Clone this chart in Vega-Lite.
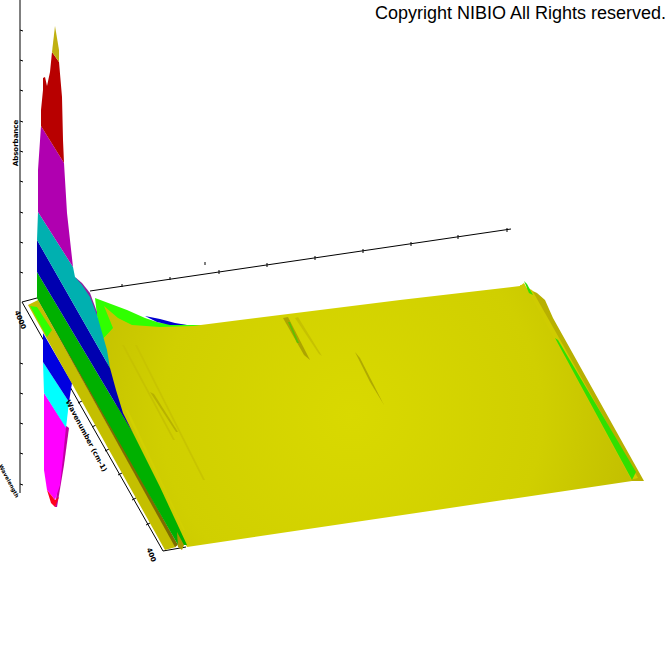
{"$schema":"https://vega.github.io/schema/vega-lite/v6.json","width":672,"height":672,"autosize":{"type":"none"},"padding":0,"background":"white","config":{"view":{"stroke":null}},
"encoding":{"x":{"field":"x","type":"quantitative","axis":null,"scale":{"domain":[0,672],"nice":false,"zero":false}},"y":{"field":"y","type":"quantitative","axis":null,"scale":{"domain":[672,0],"nice":false,"zero":false}}},
"layer":[
{"data":{"values":[
{"part":"a","seq":0,"x":20,"y":0},{"part":"a","seq":1,"x":20,"y":493},
{"part":"b","seq":0,"x":37,"y":298},{"part":"b","seq":1,"x":22,"y":302},{"part":"b","seq":2,"x":163,"y":551},{"part":"b","seq":3,"x":186,"y":547},
{"part":"c","seq":0,"x":90,"y":291},{"part":"c","seq":1,"x":511,"y":229},
{"part":"t1","seq":0,"x":122,"y":284},{"part":"t1","seq":1,"x":122,"y":287},{"part":"t2","seq":0,"x":170,"y":277},{"part":"t2","seq":1,"x":170,"y":280},{"part":"t3","seq":0,"x":219,"y":270},{"part":"t3","seq":1,"x":219,"y":274},{"part":"t4","seq":0,"x":267,"y":263},{"part":"t4","seq":1,"x":267,"y":267},{"part":"t5","seq":0,"x":315,"y":256},{"part":"t5","seq":1,"x":315,"y":260},{"part":"t6","seq":0,"x":363,"y":249},{"part":"t6","seq":1,"x":363,"y":253},{"part":"t7","seq":0,"x":411,"y":242},{"part":"t7","seq":1,"x":411,"y":246},{"part":"t8","seq":0,"x":458,"y":235},{"part":"t8","seq":1,"x":458,"y":239},{"part":"t9","seq":0,"x":507,"y":228},{"part":"t9","seq":1,"x":507,"y":232},{"part":"t10","seq":0,"x":205,"y":262},{"part":"t10","seq":1,"x":205,"y":265},
{"part":"f1","seq":0,"x":78,"y":403},{"part":"f1","seq":1,"x":82,"y":401},{"part":"f2","seq":0,"x":92,"y":427},{"part":"f2","seq":1,"x":96,"y":425},{"part":"f3","seq":0,"x":105,"y":451},{"part":"f3","seq":1,"x":109,"y":449},{"part":"f4","seq":0,"x":118,"y":475},{"part":"f4","seq":1,"x":122,"y":473},{"part":"f5","seq":0,"x":132,"y":500},{"part":"f5","seq":1,"x":136,"y":498},{"part":"f6","seq":0,"x":146,"y":525},{"part":"f6","seq":1,"x":150,"y":523},
{"part":"v1","seq":0,"x":20,"y":30},{"part":"v1","seq":1,"x":23,"y":31},{"part":"v2","seq":0,"x":20,"y":60},{"part":"v2","seq":1,"x":23,"y":61},{"part":"v3","seq":0,"x":20,"y":90},{"part":"v3","seq":1,"x":23,"y":91},{"part":"v4","seq":0,"x":20,"y":121},{"part":"v4","seq":1,"x":23,"y":122},{"part":"v5","seq":0,"x":20,"y":151},{"part":"v5","seq":1,"x":23,"y":152},{"part":"v6","seq":0,"x":20,"y":181},{"part":"v6","seq":1,"x":23,"y":182},{"part":"v7","seq":0,"x":20,"y":212},{"part":"v7","seq":1,"x":23,"y":213},{"part":"v8","seq":0,"x":20,"y":242},{"part":"v8","seq":1,"x":23,"y":243},{"part":"v9","seq":0,"x":20,"y":272},{"part":"v9","seq":1,"x":23,"y":273},{"part":"v10","seq":0,"x":20,"y":363},{"part":"v10","seq":1,"x":23,"y":364},{"part":"v11","seq":0,"x":20,"y":393},{"part":"v11","seq":1,"x":23,"y":394},{"part":"v12","seq":0,"x":20,"y":423},{"part":"v12","seq":1,"x":23,"y":424},{"part":"v13","seq":0,"x":20,"y":453},{"part":"v13","seq":1,"x":23,"y":454},{"part":"v14","seq":0,"x":20,"y":484},{"part":"v14","seq":1,"x":23,"y":485}
]},"mark":{"type":"line","stroke":"black","strokeWidth":1},"encoding":{"detail":{"field":"part"},"order":{"field":"seq","type":"quantitative"}}},
{"data":{"values":[
{"part":"lg","seq":0,"x":95,"y":298,"color":"#30ff00"},{"part":"lg","seq":1,"x":127,"y":310,"color":"#30ff00"},{"part":"lg","seq":2,"x":145,"y":318,"color":"#30ff00"},{"part":"lg","seq":3,"x":160,"y":323,"color":"#30ff00"},{"part":"lg","seq":4,"x":187,"y":325,"color":"#30ff00"},{"part":"lg","seq":5,"x":215,"y":325,"color":"#30ff00"},{"part":"lg","seq":6,"x":215,"y":330,"color":"#30ff00"},{"part":"lg","seq":7,"x":113,"y":330,"color":"#30ff00"},{"part":"lg","seq":8,"x":100,"y":342,"color":"#30ff00"},
{"part":"bs","seq":0,"x":145,"y":316,"color":"#0000d0"},{"part":"bs","seq":1,"x":160,"y":319,"color":"#0000d0"},{"part":"bs","seq":2,"x":175,"y":323,"color":"#0000d0"},{"part":"bs","seq":3,"x":187,"y":325,"color":"#0000d0"},{"part":"bs","seq":4,"x":170,"y":325,"color":"#0000d0"},{"part":"bs","seq":5,"x":157,"y":322,"color":"#0000d0"},
{"part":"o1","seq":0,"x":520,"y":285,"color":"#b8b000"},{"part":"o1","seq":1,"x":537,"y":293,"color":"#b8b000"},{"part":"o1","seq":2,"x":545,"y":300,"color":"#b8b000"},{"part":"o1","seq":3,"x":553,"y":318,"color":"#b8b000"},{"part":"o1","seq":4,"x":644,"y":481,"color":"#b8b000"},{"part":"o1","seq":5,"x":625,"y":481,"color":"#b8b000"},
{"part":"o3","seq":0,"x":520,"y":285,"color":"#cfcc00"},{"part":"o3","seq":1,"x":532,"y":290,"color":"#cfcc00"},{"part":"o3","seq":2,"x":638,"y":478,"color":"#cfcc00"},{"part":"o3","seq":3,"x":625,"y":481,"color":"#cfcc00"}
]},"mark":{"type":"line","filled":true,"strokeWidth":0},"encoding":{"detail":{"field":"part"},"order":{"field":"seq","type":"quantitative"},"fill":{"field":"color","type":"nominal","scale":null}}},
{"data":{"values":[
{"seq":0,"x":104,"y":306},{"seq":1,"x":118,"y":318},{"seq":2,"x":132,"y":325},{"seq":3,"x":160,"y":327},{"seq":4,"x":193,"y":326},{"seq":5,"x":240,"y":320},{"seq":6,"x":400,"y":300},{"seq":7,"x":520,"y":286},{"seq":8,"x":524,"y":283},{"seq":9,"x":632,"y":481},{"seq":10,"x":187,"y":547},{"seq":11,"x":155,"y":487},{"seq":12,"x":128,"y":433},{"seq":13,"x":118,"y":413},{"seq":14,"x":108,"y":370},{"seq":15,"x":103,"y":339},{"seq":16,"x":113,"y":328}
]},"mark":{"type":"line","filled":true,"strokeWidth":0,"fill":{"gradient":"radial","x1":0.47,"y1":0.5,"r1":0,"x2":0.47,"y2":0.5,"r2":0.72,"stops":[{"offset":0,"color":"#d9d900"},{"offset":0.5,"color":"#d0cf00"},{"offset":1,"color":"#b6b000"}]}},"encoding":{"order":{"field":"seq","type":"quantitative"}}},
{"data":{"values":[
{"part":"o2","seq":0,"x":524,"y":281,"color":"#30e000"},{"part":"o2","seq":1,"x":527,"y":284,"color":"#30e000"},{"part":"o2","seq":2,"x":533,"y":295,"color":"#30e000"},{"part":"o2","seq":3,"x":529,"y":293,"color":"#30e000"},
{"part":"o4","seq":0,"x":555,"y":338,"color":"#30e000"},{"part":"o4","seq":1,"x":558,"y":340,"color":"#30e000"},{"part":"o4","seq":2,"x":636,"y":472,"color":"#30e000"},{"part":"o4","seq":3,"x":632,"y":480,"color":"#30e000"},
{"part":"s1","seq":0,"x":122,"y":345,"color":"#c6c200"},{"part":"s1","seq":1,"x":124,"y":345,"color":"#c6c200"},{"part":"s1","seq":2,"x":175,"y":440,"color":"#c6c200"},{"part":"s1","seq":3,"x":173,"y":440,"color":"#c6c200"},
{"part":"s2","seq":0,"x":150,"y":392,"color":"#b8b200"},{"part":"s2","seq":1,"x":154,"y":394,"color":"#b8b200"},{"part":"s2","seq":2,"x":178,"y":432,"color":"#b8b200"},{"part":"s2","seq":3,"x":176,"y":432,"color":"#b8b200"},
{"part":"s3","seq":0,"x":135,"y":345,"color":"#c8c400"},{"part":"s3","seq":1,"x":137,"y":345,"color":"#c8c400"},{"part":"s3","seq":2,"x":205,"y":480,"color":"#c8c400"},{"part":"s3","seq":3,"x":203,"y":480,"color":"#c8c400"},
{"part":"s4","seq":0,"x":125,"y":410,"color":"#d2d000"},{"part":"s4","seq":1,"x":128,"y":410,"color":"#d2d000"},{"part":"s4","seq":2,"x":185,"y":530,"color":"#d2d000"},{"part":"s4","seq":3,"x":183,"y":530,"color":"#d2d000"},
{"part":"s5","seq":0,"x":283,"y":318,"color":"#aca400"},{"part":"s5","seq":1,"x":288,"y":317,"color":"#aca400"},{"part":"s5","seq":2,"x":310,"y":360,"color":"#aca400"},{"part":"s5","seq":3,"x":304,"y":355,"color":"#aca400"},
{"part":"s6","seq":0,"x":288,"y":322,"color":"#60c000"},{"part":"s6","seq":1,"x":290,"y":322,"color":"#60c000"},{"part":"s6","seq":2,"x":299,"y":343,"color":"#60c000"},{"part":"s6","seq":3,"x":297,"y":343,"color":"#60c000"},
{"part":"s7","seq":0,"x":355,"y":352,"color":"#b0aa00"},{"part":"s7","seq":1,"x":360,"y":358,"color":"#b0aa00"},{"part":"s7","seq":2,"x":384,"y":405,"color":"#b0aa00"},{"part":"s7","seq":3,"x":370,"y":382,"color":"#b0aa00"},
{"part":"s8","seq":0,"x":295,"y":318,"color":"#c6c200"},{"part":"s8","seq":1,"x":298,"y":317,"color":"#c6c200"},{"part":"s8","seq":2,"x":322,"y":356,"color":"#c6c200"},{"part":"s8","seq":3,"x":319,"y":354,"color":"#c6c200"}
]},"mark":{"type":"line","filled":true,"strokeWidth":0},"encoding":{"detail":{"field":"part"},"order":{"field":"seq","type":"quantitative"},"fill":{"field":"color","type":"nominal","scale":null}}},
{"data":{"values":[
{"part":"m2","seq":0,"x":65,"y":425,"color":"#c000a0"},{"part":"m2","seq":1,"x":69,"y":428,"color":"#c000a0"},{"part":"m2","seq":2,"x":64,"y":465,"color":"#c000a0"},{"part":"m2","seq":3,"x":57,"y":507,"color":"#c000a0"},{"part":"m2","seq":4,"x":55,"y":507,"color":"#c000a0"},
{"part":"m1","seq":0,"x":44,"y":393,"color":"#ff00ff"},{"part":"m1","seq":1,"x":66,"y":427,"color":"#ff00ff"},{"part":"m1","seq":2,"x":63,"y":457,"color":"#ff00ff"},{"part":"m1","seq":3,"x":60,"y":485,"color":"#ff00ff"},{"part":"m1","seq":4,"x":55,"y":500,"color":"#ff00ff"},{"part":"m1","seq":5,"x":47,"y":490,"color":"#ff00ff"},{"part":"m1","seq":6,"x":44,"y":470,"color":"#ff00ff"},{"part":"m1","seq":7,"x":44,"y":430,"color":"#ff00ff"},
{"part":"r1","seq":0,"x":47,"y":490,"color":"#ff0020"},{"part":"r1","seq":1,"x":55,"y":500,"color":"#ff0020"},{"part":"r1","seq":2,"x":59,"y":497,"color":"#ff0020"},{"part":"r1","seq":3,"x":55,"y":507,"color":"#ff0020"},{"part":"r1","seq":4,"x":51,"y":503,"color":"#ff0020"},
{"part":"cy","seq":0,"x":43,"y":362,"color":"#00ffff"},{"part":"cy","seq":1,"x":69,"y":402,"color":"#00ffff"},{"part":"cy","seq":2,"x":66,"y":428,"color":"#00ffff"},{"part":"cy","seq":3,"x":44,"y":393,"color":"#00ffff"},
{"part":"bl","seq":0,"x":43,"y":333,"color":"#0000e0"},{"part":"bl","seq":1,"x":72,"y":383,"color":"#0000e0"},{"part":"bl","seq":2,"x":69,"y":402,"color":"#0000e0"},{"part":"bl","seq":3,"x":43,"y":362,"color":"#0000e0"},
{"part":"yb","seq":0,"x":28,"y":305,"color":"#c4bf00"},{"part":"yb","seq":1,"x":38,"y":300,"color":"#c4bf00"},{"part":"yb","seq":2,"x":176,"y":547,"color":"#c4bf00"},{"part":"yb","seq":3,"x":165,"y":550,"color":"#c4bf00"},
{"part":"pg","seq":0,"x":30,"y":306,"color":"#30ff00"},{"part":"pg","seq":1,"x":37,"y":307,"color":"#30ff00"},{"part":"pg","seq":2,"x":52,"y":330,"color":"#30ff00"},{"part":"pg","seq":3,"x":47,"y":337,"color":"#30ff00"},
{"part":"dk","seq":0,"x":37,"y":298,"color":"#7d6c00"},{"part":"dk","seq":1,"x":40,"y":298,"color":"#7d6c00"},{"part":"dk","seq":2,"x":178,"y":545,"color":"#7d6c00"},{"part":"dk","seq":3,"x":175,"y":547,"color":"#7d6c00"},
{"part":"gr","seq":0,"x":37,"y":272,"color":"#00b000"},{"part":"gr","seq":1,"x":133,"y":433,"color":"#00b000"},{"part":"gr","seq":2,"x":140,"y":447,"color":"#00b000"},{"part":"gr","seq":3,"x":160,"y":487,"color":"#00b000"},{"part":"gr","seq":4,"x":187,"y":545,"color":"#00b000"},{"part":"gr","seq":5,"x":178,"y":545,"color":"#00b000"},{"part":"gr","seq":6,"x":37,"y":298,"color":"#00b000"},
{"part":"tip","seq":0,"x":177,"y":532,"color":"#a89a00"},{"part":"tip","seq":1,"x":184,"y":545,"color":"#a89a00"},{"part":"tip","seq":2,"x":182,"y":550,"color":"#a89a00"},{"part":"tip","seq":3,"x":178,"y":547,"color":"#a89a00"},
{"part":"bu","seq":0,"x":37,"y":240,"color":"#0000b0"},{"part":"bu","seq":1,"x":110,"y":368,"color":"#0000b0"},{"part":"bu","seq":2,"x":116,"y":390,"color":"#0000b0"},{"part":"bu","seq":3,"x":123,"y":413,"color":"#0000b0"},{"part":"bu","seq":4,"x":133,"y":433,"color":"#0000b0"},{"part":"bu","seq":5,"x":37,"y":272,"color":"#0000b0"},
{"part":"pu","seq":0,"x":75,"y":277,"color":"#9020a0"},{"part":"pu","seq":1,"x":82,"y":283,"color":"#9020a0"},{"part":"pu","seq":2,"x":90,"y":293,"color":"#9020a0"},{"part":"pu","seq":3,"x":97,"y":312,"color":"#9020a0"},{"part":"pu","seq":4,"x":97,"y":320,"color":"#9020a0"},
{"part":"te","seq":0,"x":38,"y":212,"color":"#00b0b0"},{"part":"te","seq":1,"x":73,"y":267,"color":"#00b0b0"},{"part":"te","seq":2,"x":75,"y":277,"color":"#00b0b0"},{"part":"te","seq":3,"x":82,"y":285,"color":"#00b0b0"},{"part":"te","seq":4,"x":90,"y":297,"color":"#00b0b0"},{"part":"te","seq":5,"x":97,"y":315,"color":"#00b0b0"},{"part":"te","seq":6,"x":107,"y":350,"color":"#00b0b0"},{"part":"te","seq":7,"x":110,"y":368,"color":"#00b0b0"},{"part":"te","seq":8,"x":37,"y":240,"color":"#00b0b0"},
{"part":"ma","seq":0,"x":41,"y":126,"color":"#b000b0"},{"part":"ma","seq":1,"x":64,"y":163,"color":"#b000b0"},{"part":"ma","seq":2,"x":67,"y":213,"color":"#b000b0"},{"part":"ma","seq":3,"x":73,"y":267,"color":"#b000b0"},{"part":"ma","seq":4,"x":38,"y":212,"color":"#b000b0"},{"part":"ma","seq":5,"x":38,"y":170,"color":"#b000b0"},
{"part":"re","seq":0,"x":52,"y":52,"color":"#b80000"},{"part":"re","seq":1,"x":59,"y":62,"color":"#b80000"},{"part":"re","seq":2,"x":62,"y":97,"color":"#b80000"},{"part":"re","seq":3,"x":63,"y":140,"color":"#b80000"},{"part":"re","seq":4,"x":64,"y":163,"color":"#b80000"},{"part":"re","seq":5,"x":41,"y":126,"color":"#b80000"},{"part":"re","seq":6,"x":41,"y":110,"color":"#b80000"},{"part":"re","seq":7,"x":43,"y":90,"color":"#b80000"},{"part":"re","seq":8,"x":43,"y":78,"color":"#b80000"},{"part":"re","seq":9,"x":45,"y":77,"color":"#b80000"},{"part":"re","seq":10,"x":47,"y":86,"color":"#b80000"},{"part":"re","seq":11,"x":50,"y":72,"color":"#b80000"},
{"part":"ye","seq":0,"x":55,"y":26,"color":"#c0b010"},{"part":"ye","seq":1,"x":59,"y":50,"color":"#c0b010"},{"part":"ye","seq":2,"x":59,"y":62,"color":"#c0b010"},{"part":"ye","seq":3,"x":52,"y":52,"color":"#c0b010"}
]},"mark":{"type":"line","filled":true,"strokeWidth":0},"encoding":{"detail":{"field":"part"},"order":{"field":"seq","type":"quantitative"},"fill":{"field":"color","type":"nominal","scale":null}}},
{"data":{"values":[{"x":375,"y":19,"label":"Copyright NIBIO All Rights reserved."}]},"mark":{"type":"text","align":"left","baseline":"alphabetic","font":"Liberation Sans","fontSize":18,"color":"black"},"encoding":{"text":{"field":"label"}}},
{"data":{"values":[{"x":16,"y":143,"label":"Absorbance"}]},"mark":{"type":"text","align":"center","baseline":"middle","font":"DejaVu Sans","fontSize":7,"fontWeight":"bold","angle":270,"color":"black"},"encoding":{"text":{"field":"label"}}},
{"data":{"values":[{"x":9,"y":481,"label":"Wavelength"}]},"mark":{"type":"text","align":"center","baseline":"middle","font":"DejaVu Sans","fontSize":5.5,"fontWeight":"bold","angle":62,"color":"black"},"encoding":{"text":{"field":"label"}}},
{"data":{"values":[{"x":86,"y":436,"label":"Wavenumber (cm-1)"}]},"mark":{"type":"text","align":"center","baseline":"middle","font":"DejaVu Sans","fontSize":7,"fontWeight":"bold","angle":62,"color":"black"},"encoding":{"text":{"field":"label"}}},
{"data":{"values":[{"x":20,"y":320,"label":"4000"},{"x":151,"y":555,"label":"400"}]},"mark":{"type":"text","align":"center","baseline":"middle","font":"DejaVu Sans","fontSize":7,"fontWeight":"bold","angle":68,"color":"black"},"encoding":{"text":{"field":"label"}}}
]}
